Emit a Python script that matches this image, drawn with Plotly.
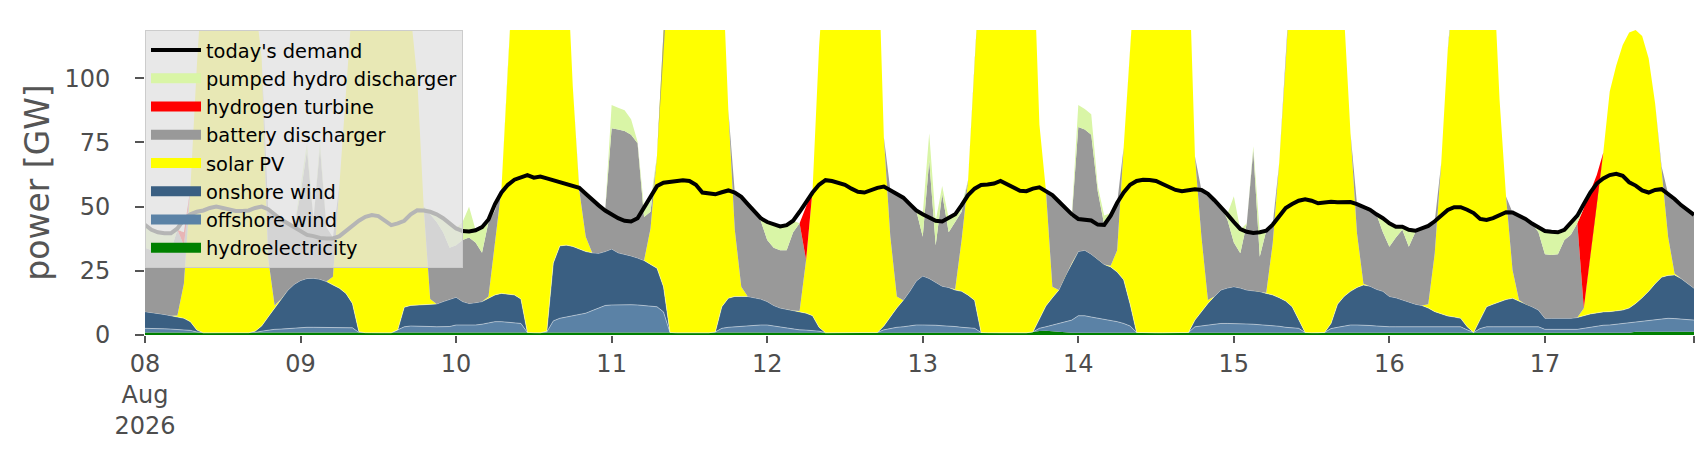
import numpy as np
import pandas as pd
import plotly.graph_objects as go

# hourly time axis, 8 Aug 2026 00:00 .. 17 Aug 2026 23:00
hours = pd.date_range("2026-08-08 00:00", periods=240, freq="h")
day_ticks = pd.date_range("2026-08-08", periods=10, freq="D")
day_labels = ["08<br>Aug<br>2026", "09", "10", "11", "12", "13", "14", "15", "16", "17"]
N = None

# Values in GW. Hydro is its own value; the other
# generation series are read as the upper edge of their band in the stack
# (None = the series contributes nothing in that hour).
hydroelectricity = (
    [1.0, 1.0, 1.0, 0.9, 0.9, 0.9, 0.9, 0.9, 0.9, 0.9, 0.9, 0.9, 0.9, 0.9, 0.9, 0.9, 0.9, 0.9, 0.9, 0.9, 0.9, 0.9, 0.9, 0.9]
    + [0.9, 0.9, 0.9, 0.9, 0.9, 0.9, 0.9, 0.9, 0.9, 0.9, 0.9, 0.9, 0.9, 0.9, 0.9, 0.9, 0.9, 0.9, 0.9, 0.9, 0.9, 0.9, 0.9, 0.9]
    + [0.9, 0.9, 0.9, 0.9, 0.9, 0.9, 0.9, 0.9, 0.9, 0.9, 0.9, 0.9, 0.9, 0.9, 0.9, 0.9, 0.9, 0.9, 0.9, 0.9, 0.9, 0.9, 0.9, 0.9]
    + [0.9, 0.9, 0.9, 0.9, 0.9, 0.9, 0.9, 0.9, 0.9, 0.9, 0.9, 0.9, 0.9, 0.9, 0.9, 0.9, 0.9, 0.9, 0.9, 0.9, 0.9, 0.9, 0.9, 0.9]
    + [0.9, 0.9, 0.9, 0.9, 0.9, 0.9, 0.9, 0.9, 0.9, 0.9, 0.9, 0.9, 0.9, 0.9, 0.9, 0.9, 0.9, 0.9, 0.9, 0.9, 0.9, 0.9, 0.9, 0.9]
    + [0.9, 0.9, 0.9, 0.9, 0.9, 0.9, 0.9, 0.9, 0.9, 0.9, 0.9, 0.9, 0.9, 0.9, 0.9, 0.9, 0.9, 1.2, 1.6, 1.7, 1.5, 1.2, 0.9, 0.9]
    + [0.9, 0.9, 0.9, 0.9, 0.9, 0.9, 0.9, 0.9, 0.9, 0.9, 0.9, 0.9, 0.9, 0.9, 0.9, 0.9, 0.9, 0.9, 0.9, 0.9, 0.9, 0.9, 0.9, 0.9]
    + [0.9, 0.9, 0.9, 0.9, 0.9, 0.9, 0.9, 0.9, 0.9, 0.9, 0.9, 0.9, 0.9, 0.9, 0.9, 0.9, 0.9, 0.9, 0.9, 0.9, 0.9, 0.9, 0.9, 0.9]
    + [0.9, 0.9, 0.9, 0.9, 0.9, 0.9, 0.9, 0.9, 0.9, 0.9, 0.9, 0.9, 0.9, 0.9, 0.9, 0.9, 0.9, 0.9, 0.9, 0.9, 0.9, 0.9, 0.9, 0.9]
    + [0.9, 0.9, 0.9, 0.9, 0.9, 0.9, 0.9, 0.9, 0.9, 0.9, 0.9, 0.9, 0.9, 0.9, 1.3, 1.3, 1.3, 1.3, 1.3, 1.3, 1.3, 1.3, 1.3, 1.3]
)

offshore_top = (
    [2.6, 2.6, 2.5, 2.4, 2.3, 2.2, 2.0, 1.8, 1.2, 0.9, 0.9, 0.9, 0.9, 0.9, 0.9, 0.9, 0.9, 1.0, 1.5, 2.0, 2.2, 2.3, 2.5, 2.6]
    + [2.8, 3.0, 3.0, 3.0, 3.0, 3.0, 3.0, 3.0, 2.8, 1.0, 0.9, 0.9, 0.9, 0.9, 0.9, 2.0, 3.2, 3.5, 3.5, 3.4, 3.3, 3.2, 3.2, 3.3]
    + [3.9, 3.9, 3.9, 3.9, 4.2, 4.6, 5.2, 5.2, 5.0, 4.8, 4.5, 1.0, 0.9, 0.9, 1.2, 5.5, 6.5, 7.0, 7.5, 8.0, 8.5, 9.5, 10.5, 11.5]
    + [11.7, 11.8, 11.8, 11.8, 11.7, 11.5, 11.2, 11.0, 9.0, 1.0, 0.9, 0.9, 0.9, 0.9, 0.9, 0.9, 1.2, 2.6, 3.0, 3.2, 3.4, 3.6, 3.8, 3.9]
    + [3.9, 3.5, 3.0, 2.5, 2.2, 2.0, 1.9, 1.7, 1.5, 0.9, 0.9, 0.9, 0.9, 0.9, 0.9, 0.9, 0.9, 1.0, 2.0, 2.6, 3.0, 3.2, 3.5, 3.9]
    + [3.9, 3.9, 3.8, 3.6, 3.5, 3.3, 3.0, 2.8, 2.6, 1.0, 0.9, 0.9, 0.9, 0.9, 0.9, 0.9, 0.9, 1.2, 2.6, 3.2, 3.9, 4.5, 5.2, 5.8]
    + [7.5, 7.5, 7.0, 6.5, 6.2, 5.8, 5.2, 4.5, 3.5, 1.0, 0.9, 0.9, 0.9, 0.9, 0.9, 0.9, 0.9, 1.0, 3.2, 3.5, 3.9, 4.2, 4.5, 4.5]
    + [4.5, 4.5, 4.3, 4.2, 4.0, 3.9, 3.7, 3.4, 3.0, 2.8, 2.6, 1.0, 0.9, 0.9, 1.0, 2.5, 3.0, 3.5, 3.9, 3.9, 3.9, 3.7, 3.5, 3.3]
    + [3.2, 3.2, 3.2, 3.2, 3.2, 3.2, 3.2, 3.2, 3.2, 3.2, 3.2, 3.2, 2.0, 1.0, 2.5, 3.2, 3.2, 3.2, 3.2, 3.2, 3.2, 3.2, 3.2, 3.2]
    + [2.2, 2.2, 2.2, 2.2, 2.2, 2.2, 2.6, 3.0, 3.4, 3.8, 3.9, 4.2, 4.5, 4.8, 5.0, 5.3, 5.6, 6.0, 6.3, 6.5, 6.4, 6.2, 6.0, 5.8]
)

onshore_top = (
    [9.1, 8.8, 8.4, 8.0, 7.5, 7.1, 6.5, 5.2, 1.9, 0.9, 0.9, 0.9, 0.9, 0.9, 0.9, 0.9, 0.9, 1.5, 3.5, 7.0, 10.5, 14.0, 17.3, 19.7]
    + [21.2, 22.0, 22.1, 21.7, 20.8, 19.5, 18.2, 16.2, 12.3, 1.3, 0.9, 0.9, 0.9, 0.9, 0.9, 2.0, 10.8, 11.5, 11.7, 11.9, 11.9, 12.1, 13.0, 13.9]
    + [14.7, 13.0, 12.3, 12.6, 13.0, 14.3, 15.6, 16.2, 16.0, 15.6, 14.0, 1.0, 0.9, 0.9, 1.5, 28.0, 34.7, 35.0, 34.5, 33.5, 32.5, 32.0, 31.8, 32.5]
    + [33.5, 32.0, 31.5, 30.8, 30.0, 29.0, 27.5, 26.0, 18.8, 1.0, 0.9, 0.9, 0.9, 0.9, 0.9, 0.9, 1.2, 11.0, 14.3, 15.0, 15.0, 15.0, 14.5, 14.0]
    + [13.0, 11.5, 10.5, 10.0, 9.5, 9.0, 8.5, 7.5, 3.0, 0.9, 0.9, 0.9, 0.9, 0.9, 0.9, 0.9, 0.9, 1.0, 3.5, 7.0, 10.5, 13.5, 17.0, 21.0]
    + [23.0, 22.0, 20.5, 19.0, 18.5, 17.5, 17.0, 15.5, 13.5, 1.0, 0.9, 0.9, 0.9, 0.9, 0.9, 0.9, 0.9, 1.2, 6.5, 11.3, 14.5, 17.5, 23.0, 28.0]
    + [32.5, 33.0, 31.5, 29.5, 27.5, 26.5, 24.5, 21.5, 12.0, 1.0, 0.9, 0.9, 0.9, 0.9, 0.9, 0.9, 0.9, 1.0, 5.8, 9.0, 12.3, 15.0, 17.5, 18.3]
    + [18.8, 18.3, 17.5, 17.2, 16.9, 16.2, 15.6, 14.5, 13.2, 11.0, 6.0, 1.0, 0.9, 0.9, 1.0, 4.5, 12.0, 15.0, 17.0, 18.5, 19.5, 19.0, 17.8, 17.0]
    + [15.0, 14.5, 13.6, 13.0, 12.0, 11.5, 10.5, 9.1, 8.3, 7.4, 7.0, 6.5, 3.2, 1.0, 6.0, 11.0, 12.0, 13.0, 13.8, 14.3, 13.3, 12.0, 11.0, 9.7]
    + [6.5, 6.5, 6.5, 6.5, 6.5, 6.8, 7.5, 8.2, 8.6, 9.0, 9.1, 9.4, 9.7, 10.5, 12.3, 14.5, 17.0, 20.0, 22.5, 23.2, 23.4, 22.0, 20.0, 18.2]
)

solar_top = (
    [N, N, N, N, N, 7.6, 20, 57, 105, 145, 160, 170, 172, 170, 165, 155, 145, 130, 108, 30, 11.5, N, N, N]
    + [N, N, N, N, N, 22.7, 58.4, 93.5, 130, 150, 165, 170, 172, 170, 165, 155, 140, 125, 100, 50, 14, N, N, N]
    + [N, N, N, N, N, 15, 35, 57, 105, 150, 160, 168, 172, 172, 168, 162, 158, 152, 97, 56.5, 38.3, N, N, N]
    + [N, N, N, N, N, N, 41.5, 70, 118, 150, 160, 168, 172, 172, 170, 165, 158, 150, 87.7, 41, 18.8, N, N, N]
    + [N, N, N, N, N, 9.3, 29.2, 56.5, 112, 150, 160, 168, 172, 172, 170, 168, 165, 161, 77, 38.3, 15, N, N, N]
    + [N, N, N, N, N, 17.8, 37, 60.4, 106, 150, 162, 170, 172, 172, 170, 165, 158, 156, 82, 56.5, 18.8, N, N, N]
    + [N, N, N, N, N, 27, 33, 73, 111, 150, 162, 170, 172, 172, 170, 165, 158, 152, 69.5, 38.3, 13.6, N, N, N]
    + [N, N, N, N, N, 16.5, 35.7, 67, 106, 150, 162, 170, 172, 172, 170, 165, 158, 125, 78.6, 39.6, 20, N, N, N]
    + [N, N, N, N, N, N, 12, 31.8, 67, 111, 140, 160, 168, 170, 168, 160, 146, 91.6, 53.9, 25.3, 13.6, N, N, N]
    + [N, N, N, N, N, N, 10.4, 31.2, 52.6, 71, 94.8, 105, 113, 117.8, 118.8, 116.5, 107.8, 90.3, 65.6, 38.3, 24, N, N, N]
)

battery_top = (
    [34, 33, 32, 32, 33, 41, 35, N, N, N, N, N, N, N, N, N, N, N, N, 49, 47, 45, 43.5, 42]
    + [55, 72, 45, 73, 42, 38, N, N, N, N, N, N, N, N, N, N, N, N, N, N, 47, 44, 40, 34]
    + [35, 37, 38, 36, 32, 44, 48.5, N, N, N, N, N, N, N, N, N, N, N, N, 57.3, 55, 52.5, 50.5, 48.5]
    + [80.5, 80, 79.5, 78, 74.7, 46, 48, N, N, N, N, N, N, N, N, N, N, N, N, 55.5, 53.8, 51, 48.5, 44.5]
    + [37, 34, 33, 33, 40, 43.5, N, N, N, N, N, N, N, N, N, N, N, N, N, 56.5, 55, 53.5, 51, 48.5]
    + [38.3, 68, 35, 55, 40, 44, 48, N, N, N, N, N, N, N, N, N, N, N, N, N, 54.5, 52, 49.5, 46]
    + [81, 80, 78, 56, 43, 46, 51.5, N, N, N, N, N, N, N, N, N, N, N, N, 56.5, 55, 52.5, 50, 45]
    + [36, 31.8, 43.5, 72, 30.5, 40.6, 43, N, N, N, N, N, N, N, N, N, N, N, N, 51, 50, 48.8, 47, 40]
    + [34.4, 38, 41, 34.4, 40, 41.5, 42.5, 44.3, N, N, N, N, N, N, N, N, N, N, N, 47.7, 46.5, 45.2, 43.4, 40]
    + [31.5, 31.2, 31.5, 37, 39, 43.5, N, N, N, N, N, N, N, N, N, N, N, N, N, 55, 53, 50.6, 48.5, 46.8]
)

hydrogen_top = (
    [N, N, N, N, N, N, 40, N, N, N, N, N, N, N, N, N, N, N, N, N, N, N, N, N]
    + [N] * 24 + [N] * 24 + [N] * 24
    + [N, N, N, N, N, N, 50, N, N, N, N, N, N, N, N, N, N, N, N, N, N, N, N, N]
    + [N] * 24 + [N] * 24 + [N] * 24 + [N] * 24
    + [N, N, N, N, N, N, 49.4, 55.9, 62.3, N, N, N, N, N, N, N, N, N, N, N, N, N, N, N]
)

pumped_top = (
    [42, 41, 40, 39.6, 39.6, 41.5, N, N, N, N, N, N, N, N, N, N, N, N, N, N, N, N, N, N]
    + [58, 75, N, 76, N, N, N, N, N, N, N, N, N, N, N, N, N, N, N, N, 48.5, 47, 45, 43]
    + [41.5, 44, 50, 41, 41.5, 45, N, N, N, N, N, N, N, N, N, N, N, N, N, N, N, N, N, N]
    + [89.6, 88.5, 87.5, 84, 75.3, 49.5, 52, N, N, N, N, N, N, N, N, N, N, N, N, N, N, N, N, 45.5]
    + [44, 43, 42.3, 42.8, 44.5, N, N, N, N, N, N, N, N, N, N, N, N, N, N, N, N, N, N, N]
    + [47, 78.6, 44.5, 58, 45.5, 47, 50.6, N, N, N, N, N, N, N, N, N, N, N, N, N, N, N, N, 47]
    + [89.6, 88, 86, 58, 46.5, 47.5, N, N, N, N, N, N, N, N, N, N, N, N, N, N, N, N, N, 47]
    + [54, 41, N, 73.5, 40, 41, 43.5, N, N, N, N, N, N, N, N, N, N, N, N, N, N, N, N, 45.5]
    + [43.5, 42.2, 42.2, 41, 40.6, N, N, N, N, N, N, N, N, N, N, N, N, N, N, N, N, N, N, 41.8]
    + [40.3, 40.2, 40, 41, 43.5, 45, N, N, N, N, N, N, N, N, N, N, N, N, N, N, N, N, N, N]
)

demand = (
    [42.9, 41, 40, 39.6, 39.6, 41.5, 45, 47, 48, 48.5, 49.5, 50, 49.5, 48.7, 48.3, 48.3, 48.5, 49.5, 50, 49, 47, 45, 43.5, 42]
    + [40.5, 39, 38.5, 37.8, 37.6, 37.6, 38.5, 40.5, 42.5, 44.5, 46, 46.7, 46.3, 44.5, 42.8, 43.5, 44.5, 47, 48.6, 48.5, 48, 47, 45.5, 43.5]
    + [41.5, 40.5, 40.3, 40.8, 42, 45, 51, 55.5, 58.5, 60.5, 61.5, 62.3, 61.3, 61.7, 61, 60.2, 59.5, 58.7, 58, 57.3, 55, 52.5, 50.5, 48.5]
    + [47, 45.5, 44.5, 44.2, 45.5, 49.5, 54, 58, 59.3, 59.7, 60, 60.3, 60, 58.5, 55.5, 55, 54.8, 55.6, 56.3, 55.5, 53.8, 51, 48.5, 45.5]
    + [44, 43, 42.3, 42.8, 44.5, 48, 52, 55.5, 58.5, 60.3, 60, 59.4, 58.5, 57, 55.8, 55.5, 56.5, 57.3, 57.8, 56.5, 55, 53.5, 51, 48.5]
    + [47, 45.8, 44.5, 44.2, 45.5, 47, 50.6, 54.5, 57, 58.4, 58.6, 59, 60, 58.6, 57.3, 56.2, 56, 57, 57.5, 56.2, 54.5, 52, 49.5, 47]
    + [45.2, 44.8, 44.6, 43, 42.9, 46.5, 51.5, 55.5, 58.5, 60, 60.5, 60.4, 60, 58.8, 57.5, 56.5, 56, 56.3, 56.8, 56.5, 55, 52.5, 50, 47]
    + [44, 41.3, 40.2, 39.7, 40, 40.6, 43, 46.5, 49.5, 51, 52.3, 52.9, 52.3, 51.3, 51.5, 51.9, 51.7, 51.6, 51.8, 51, 50, 48.8, 47, 45.5]
    + [43.5, 42.2, 42.2, 41, 40.6, 41.5, 42.5, 44.3, 46.5, 48.7, 49.8, 49.8, 48.8, 47.5, 45.2, 44.8, 45.5, 46.8, 47.8, 47.7, 46.5, 45.2, 43.4, 41.8]
    + [40.5, 40.2, 40, 41, 43.5, 46.5, 51, 55.5, 59, 61, 62.3, 62.8, 62, 59.5, 58.2, 56.3, 55.5, 56.5, 56.8, 55, 53, 50.6, 48.5, 46.8]
)

names = ["hydroelectricity", "offshore wind", "onshore wind", "solar PV",
         "battery discharger", "hydrogen turbine", "pumped hydro discharger"]
colors = ["#008000", "#5b82a6", "#3a5f82", "#ffff00", "#999999", "#ff0000", "#d9f5a6"]
legend_rank = [8, 7, 6, 5, 4, 3, 2]


# --- turn the read band edges into per-series generation values ---
def edge(values, below):
    a = np.array([np.nan if v is None else v for v in values], dtype=float)
    return np.where(np.isnan(a), below, np.maximum(a, below))


lv_h = np.array(hydroelectricity, dtype=float)
lv_o = edge(offshore_top, lv_h)
lv_n = edge(onshore_top, lv_o)
lv_s = edge(solar_top, lv_n)
lv_b = edge(battery_top, lv_s)
lv_r = edge(hydrogen_top, lv_b)
lv_p = edge(pumped_top, lv_r)
levels = [np.zeros(240), lv_h, lv_o, lv_n, lv_s, lv_b, lv_r, lv_p]
series = [levels[i + 1] - levels[i] for i in range(7)]

fig = go.Figure()
for nm, col, vals in zip(names, colors, series):
    if nm in ("onshore wind", "offshore wind"):
        ln = dict(width=0.8, color="rgba(255,255,255,0.55)")
    else:
        ln = dict(width=0, color=col)
    fig.add_trace(go.Scatter(
        x=hours, y=vals, name=nm, mode="lines", stackgroup="gen",
        fillcolor=col, line=ln, showlegend=False,
    ))

fig.add_trace(go.Scatter(
    x=hours, y=demand, name="today's demand", mode="lines",
    line=dict(color="black", width=4), legendgroup="demand", legendrank=1,
))

# legend swatches for the stacked areas (wide colour bars like the original)
for nm, col, rk in zip(names, colors, legend_rank):
    fig.add_trace(go.Scatter(
        x=[None], y=[None], name=nm, mode="lines",
        line=dict(color=col, width=14), legendgroup=nm, legendrank=rk,
        hoverinfo="skip",
    ))

tick_vals = list(day_ticks) + [hours[-1]]
tick_text = day_labels + [""]

fig.update_layout(
    width=1706, height=460,
    margin=dict(l=137, r=20, t=22, b=133),
    paper_bgcolor="white", plot_bgcolor="white",
    font=dict(family="DejaVu Sans", color="#4d4d4d"),
    showlegend=True,
    legend=dict(
        x=0.0, y=1.0, xanchor="left", yanchor="top",
        bgcolor="rgba(226,226,226,0.8)", bordercolor="#cccccc", borderwidth=1,
        font=dict(size=19.4, color="black", family="DejaVu Sans"),
        traceorder="grouped", tracegroupgap=0, itemwidth=50,
    ),
    xaxis=dict(
        type="date", range=[hours[0], hours[-1]],
        showgrid=False, zeroline=False, showline=False,
        tickmode="array", tickvals=tick_vals, ticktext=tick_text,
        ticks="outside", ticklen=7, tickwidth=1.5, tickcolor="#555555",
        tickfont=dict(size=24, color="#4d4d4d"),
    ),
    yaxis=dict(
        range=[0, 118.8], showgrid=False, zeroline=False, showline=False,
        tickmode="array", tickvals=[0, 25, 50, 75, 100],
        ticks="outside", ticklen=9, tickwidth=1.5, tickcolor="#555555",
        ticklabelstandoff=20,
        tickfont=dict(size=24, color="#4d4d4d"),
        title=dict(text="power [GW]", font=dict(size=33, color="#555555"), standoff=4),
    ),
)

fig.write_html("out.html")
